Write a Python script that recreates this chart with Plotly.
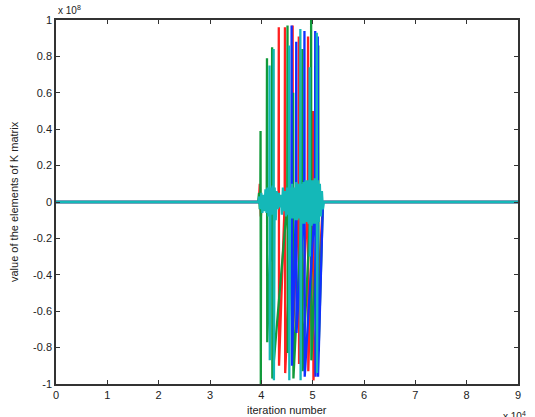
import plotly.graph_objects as go

# x in units of 1e4 iterations, y in units of 1e8
x_ticks = [0, 1, 2, 3, 4, 5, 6, 7, 8, 9]
y_ticks = [-1, -0.8, -0.6, -0.4, -0.2, 0, 0.2, 0.4, 0.6, 0.8, 1]
y_tick_text = ["-1", "-0.8", "-0.6", "-0.4", "-0.2", "0", "0.2", "0.4", "0.6", "0.8", "1"]

blue_x = [0, 4.00, 4.30, 4.585, 4.59, 4.595, 4.675, 4.68, 4.685, 4.835, 4.84, 4.845,
          5.045, 5.05, 5.055, 5.095, 5.10, 5.105, 5.20, 9]
blue_y = [0, 0, 0.02, 0, 0.97, -0.90, 0, 0.88, -0.72, 0, 0.94, -0.96,
          0, 0.94, -0.96, 0, 0.91, -0.96, 0, 0]

green_x = [0, 3.94, 3.955, 3.97, 3.98, 3.985, 3.99, 3.995, 4.105, 4.11, 4.115, 4.205, 4.21, 4.215,
           4.505, 4.51, 4.515, 4.615, 4.62, 4.625, 4.795, 4.80, 4.805,
           4.965, 4.97, 4.975, 5.105, 5.11, 5.115, 5.20, 9]
green_y = [0, 0, 0.05, -0.04, 0, 0.39, -1.0, 0, 0, 0.79, -0.77, 0, 0.85, -0.97,
           0, 0.97, -0.83, 0, 0.60, -0.97, 0, 0.84, -0.93,
           0, 1.0, -0.87, 0, 0.86, -0.82, 0, 0]

red_x = [0, 3.95, 3.97, 3.99, 4.01, 4.335, 4.34, 4.345, 4.455, 4.46, 4.465,
         4.605, 4.61, 4.615, 4.725, 4.73, 4.735, 4.905, 4.91, 4.915,
         5.005, 5.01, 5.015, 5.20, 9]
red_y = [0, 0, 0.10, -0.08, 0, 0, 0.96, -0.90, 0, 0.96, -0.94,
         0, 0.97, -0.72, 0, 0.91, -0.89, 0, 0.91, -0.93,
         0, 0.50, -0.98, 0, 0]

cyan_x = [0, 3.94, 3.96, 3.98, 4.00, 4.02, 4.04, 4.06, 4.08, 4.10, 4.12, 4.14,
          4.155, 4.16, 4.165, 4.18, 4.20, 4.22, 4.235, 4.24, 4.245, 4.26, 4.28,
          4.30, 4.32, 4.34, 4.36, 4.38, 4.40, 4.42, 4.44, 4.46, 4.48, 4.50, 4.52,
          4.535, 4.54, 4.545, 4.56, 4.58, 4.60, 4.62, 4.64, 4.66, 4.68, 4.70,
          4.72, 4.74, 4.755, 4.76, 4.765, 4.78, 4.80, 4.82, 4.84, 4.86, 4.88,
          4.90, 4.92, 4.935, 4.94, 4.945, 4.96, 4.98, 5.00, 5.02, 5.04, 5.06,
          5.075, 5.08, 5.085, 5.10, 5.12, 5.14, 5.16, 5.18, 5.20, 5.22, 9]
cyan_y = [0, 0, 0.03, -0.04, 0.05, -0.06, 0.04, -0.05, 0.07, -0.06, 0.08, -0.08,
          0, 0.75, -0.87, 0.08, -0.07, 0.09, 0, 0.84, -0.98, 0.08, -0.10,
          0.06, -0.04, 0.05, -0.03, 0.04, -0.07, 0.08, -0.05, 0.06, -0.08, 0.08, -0.07,
          0, 0.86, -0.98, 0.08, -0.09, 0.10, -0.09, 0.08, -0.10, 0.11, -0.10,
          0.10, -0.09, 0, 0.95, -0.98, 0.10, -0.12, 0.11, -0.12, 0.12, -0.11,
          0.12, -0.12, 0, 0.74, -0.30, 0.12, -0.13, 0.12, -0.12, 0.13, -0.12,
          0, 0.93, -0.94, 0.12, -0.11, 0.10, -0.08, 0.06, -0.04, 0, 0]

series = [
    ("red", red_x, red_y, "#ff2020"),
    ("green", green_x, green_y, "#119a3a"),
    ("blue", blue_x, blue_y, "#1030ff"),
    ("cyan", cyan_x, cyan_y, "#14b8b8"),
]

fig = go.Figure()
for name, xs, ys, col in series:
    fig.add_trace(go.Scatter(x=xs, y=ys, mode="lines", name=name,
                             line=dict(color=col, width=2.3), showlegend=False))

axis_common = dict(showline=True, linecolor="#333", linewidth=1.5, mirror="ticks",
                   ticks="inside", ticklen=4, tickcolor="#333", showgrid=False,
                   zeroline=False, tickfont=dict(family="Liberation Sans, Arial", size=11, color="#222"))

fig.update_xaxes(range=[0, 9], tickvals=x_ticks, ticktext=[str(v) for v in x_ticks], **axis_common)
fig.update_yaxes(range=[-1, 1], tickvals=y_ticks, ticktext=y_tick_text, **axis_common)

fig.update_layout(
    width=535, height=417,
    margin=dict(l=56, r=17, t=20, b=33),
    paper_bgcolor="white", plot_bgcolor="white",
    font=dict(family="Liberation Sans, Arial", size=11, color="#222"),
    annotations=[
        dict(text="x 10<sup>8</sup>", x=0, y=1, xref="paper", yref="paper",
             xanchor="left", yanchor="bottom", yshift=2, showarrow=False,
             font=dict(size=10)),
        dict(text="x 10<sup>4</sup>", x=1, y=0, xref="paper", yref="paper",
             xanchor="right", yanchor="top", yshift=-24, xshift=10, showarrow=False,
             font=dict(size=10)),
        dict(text="iteration number", x=0.5, y=0, xref="paper", yref="paper",
             xanchor="center", yanchor="top", yshift=-18, showarrow=False,
             font=dict(size=11)),
        dict(text="value of the elements of K matrix", x=0, y=0.5, xref="paper", yref="paper",
             xanchor="center", yanchor="middle", xshift=-42, textangle=-90, showarrow=False,
             font=dict(size=11)),
    ],
)

fig.write_html("out.html")
